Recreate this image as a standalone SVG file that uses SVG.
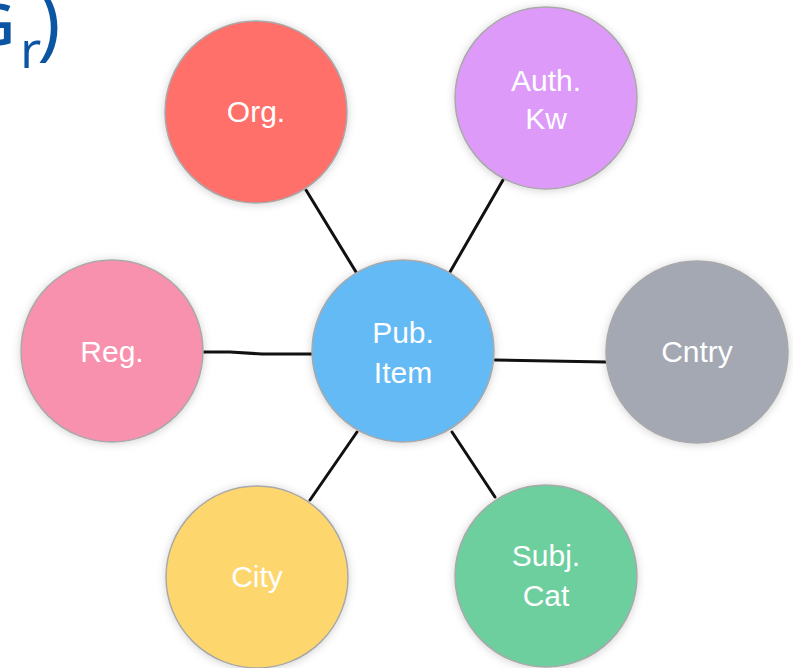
<svg xmlns="http://www.w3.org/2000/svg" width="793" height="668" viewBox="0 0 793 668">
  <style>
    .node { stroke: #a9a9a9; stroke-width: 1.5; filter: url(#glow); }
    .label { font-family: "Liberation Sans", Arial, sans-serif; font-size: 30px; fill: #ffffff; text-anchor: middle; }
    .edge { stroke: #111111; stroke-width: 3; stroke-linecap: round; fill: none; }
    .title { font-family: "Open Sans", "Liberation Sans", sans-serif; fill: #0b55a3; }
  </style>
  <defs>
    <filter id="glow" x="-20%" y="-20%" width="140%" height="140%">
      <feDropShadow dx="0" dy="1" stdDeviation="4" flood-color="#000000" flood-opacity="0.18"/>
    </filter>
  </defs>

  <rect width="793" height="668" fill="#ffffff"/>

  <!-- heading fragment -->
  <g id="heading">
    <text class="title" x="15" y="45" font-size="58" font-weight="600" text-anchor="end">G</text>
    <text class="title" x="20" y="68" font-size="52">r</text>
    <text class="title" x="37" y="50" font-size="80">)</text>
  </g>

  <!-- connectors -->
  <g id="connectors">
    <line class="edge" x1="306" y1="190" x2="356" y2="272"/>
    <line class="edge" x1="503" y1="180" x2="450" y2="272"/>
    <path class="edge" d="M204 352 L230 352 L262 354 L312 354"/>
    <line class="edge" x1="495" y1="360" x2="606" y2="362"/>
    <line class="edge" x1="357" y1="432" x2="310" y2="500"/>
    <line class="edge" x1="452" y1="432" x2="495" y2="497"/>
  </g>

  <g id="org">
    <circle class="node" cx="256" cy="112" r="91" fill="#ff706b"/>
    <text class="label" x="256" y="122">Org.</text>
  </g>
  <g id="auth-kw">
    <circle class="node" cx="546" cy="98" r="91" fill="#dd9af9"/>
    <text class="label" x="546" y="91">Auth.</text>
    <text class="label" x="546" y="129">Kw</text>
  </g>
  <g id="reg">
    <circle class="node" cx="112" cy="351" r="91" fill="#f891ae"/>
    <text class="label" x="112" y="362">Reg.</text>
  </g>
  <g id="pub-item">
    <circle class="node" cx="403" cy="351" r="91" fill="#64baf5"/>
    <text class="label" x="403" y="343">Pub.</text>
    <text class="label" x="403" y="383">Item</text>
  </g>
  <g id="cntry">
    <circle class="node" cx="697" cy="352" r="91" fill="#a3a8b3"/>
    <text class="label" x="697" y="362">Cntry</text>
  </g>
  <g id="city">
    <circle class="node" cx="257" cy="577" r="91" fill="#fed66e"/>
    <text class="label" x="257" y="587">City</text>
  </g>
  <g id="subj-cat">
    <circle class="node" cx="546" cy="576" r="91" fill="#6dce9e"/>
    <text class="label" x="546" y="566">Subj.</text>
    <text class="label" x="546" y="606">Cat</text>
  </g>
</svg>
